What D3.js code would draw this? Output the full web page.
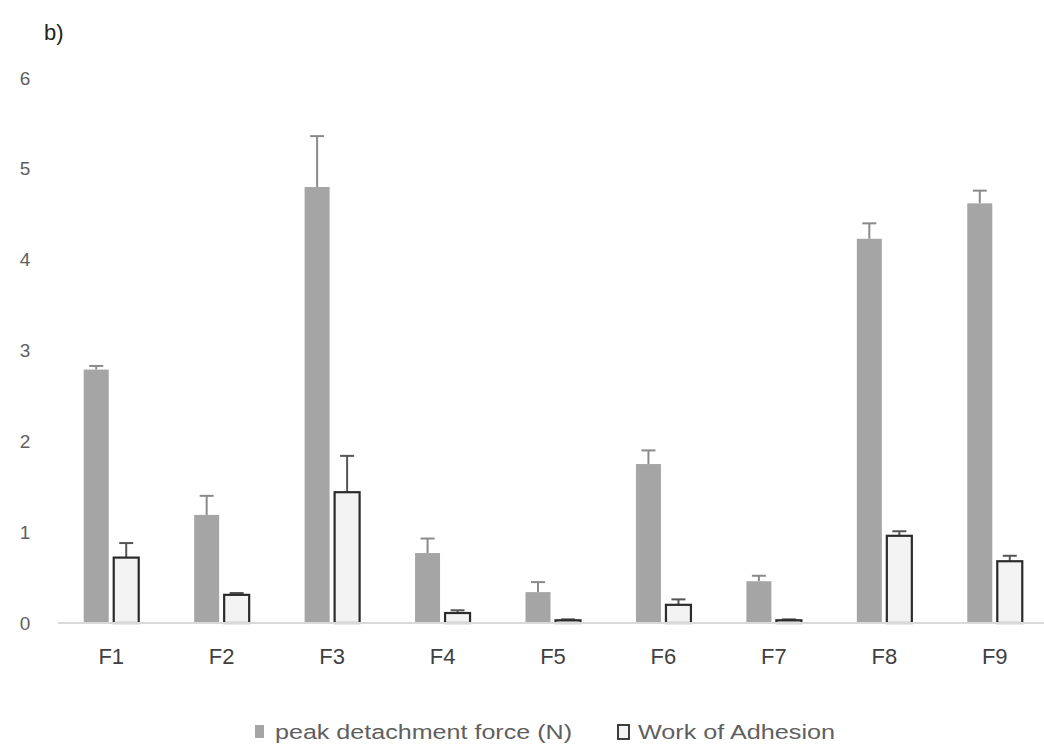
<!DOCTYPE html>
<html>
<head>
<meta charset="utf-8">
<script src="https://cdn.jsdelivr.net/npm/d3@7"></script>
<style>
  html, body { margin: 0; padding: 0; background: #fff; }
  svg { display: block; }
</style>
</head>
<body>
<svg id="chart" width="1044" height="748"></svg>
<script>
const categories = ["F1", "F2", "F3", "F4", "F5", "F6", "F7", "F8", "F9"];
const peakForce = [2.79, 1.19, 4.80, 0.77, 0.34, 1.75, 0.46, 4.23, 4.62];
const peakForceErr = [0.04, 0.21, 0.56, 0.16, 0.11, 0.15, 0.06, 0.17, 0.14];
const workAdhesion = [0.72, 0.31, 1.44, 0.11, 0.03, 0.20, 0.03, 0.96, 0.68];
const workAdhesionErr = [0.16, 0.02, 0.40, 0.03, 0.01, 0.06, 0.01, 0.05, 0.06];
const yTicks = [0, 1, 2, 3, 4, 5, 6];
const seriesNames = ["peak detachment force (N)", "Work of Adhesion"];

const svg = d3.select("#chart");
const font = "'Liberation Sans', Arial, sans-serif";

const x = d3.scaleBand().domain(categories).range([56, 1050]).paddingInner(0).paddingOuter(0);
const y = d3.scaleLinear().domain([0, 6]).range([623, 78]);

const barW = 25;
const offGray = -15, offWhite = 15;

// title label
svg.append("text").attr("x", 44).attr("y", 40)
  .attr("font-family", font).attr("font-size", 22).attr("fill", "#222")
  .text("b)");

// y tick labels (no axis line)
const yAxis = d3.axisLeft(y).tickValues(yTicks).tickSize(0).tickPadding(0).tickFormat(d3.format("d"));
const yg = svg.append("g").attr("transform", "translate(25,0)").call(yAxis);
yg.select(".domain").remove();
yg.selectAll("text").attr("font-family", font).attr("font-size", 19).attr("fill", "#5f5f5f")
  .attr("text-anchor", "middle");

const data = categories.map((c, i) => ({c, p: peakForce[i], pe: peakForceErr[i], w: workAdhesion[i], we: workAdhesionErr[i]}));
const cx = d => x(d.c) + x.bandwidth() / 2;

// error bars
const errG = svg.append("g");
data.forEach(d => {
  const xc = cx(d) + offGray;
  errG.append("line").attr("x1", xc).attr("x2", xc).attr("y1", y(d.p)).attr("y2", y(d.p + d.pe))
    .attr("stroke", "#8a8a8a").attr("stroke-width", 2);
  errG.append("line").attr("x1", xc - 7).attr("x2", xc + 7).attr("y1", y(d.p + d.pe)).attr("y2", y(d.p + d.pe))
    .attr("stroke", "#8a8a8a").attr("stroke-width", 2);
});
svg.append("g").selectAll("rect").data(data).join("rect")
  .attr("x", d => cx(d) + offGray - barW / 2)
  .attr("y", d => y(d.p))
  .attr("width", barW)
  .attr("height", d => y(0) - y(d.p))
  .attr("fill", "#a5a5a5");

data.forEach(d => {
  const xc = cx(d) + offWhite;
  errG.append("line").attr("x1", xc).attr("x2", xc).attr("y1", y(d.w)).attr("y2", y(d.w + d.we))
    .attr("stroke", "#555").attr("stroke-width", 2);
  errG.append("line").attr("x1", xc - 7).attr("x2", xc + 7).attr("y1", y(d.w + d.we)).attr("y2", y(d.w + d.we))
    .attr("stroke", "#555").attr("stroke-width", 2);
});
svg.append("g").selectAll("rect").data(data).join("rect")
  .attr("x", d => cx(d) + offWhite - barW / 2)
  .attr("y", d => y(d.w))
  .attr("width", barW)
  .attr("height", d => y(0) - y(d.w))
  .attr("fill", "#f3f3f3")
  .attr("stroke", "#2b2b2b")
  .attr("stroke-width", 2.2);

// x axis
const xAxis = d3.axisBottom(x).tickSize(0).tickPadding(25);
const xg = svg.append("g").attr("transform", `translate(0,${y(0)})`).call(xAxis);
xg.select(".domain").attr("stroke", "#d9d9d9").attr("stroke-width", 2)
  .attr("d", `M58,0H1044`);
xg.selectAll("text").attr("font-family", font).attr("font-size", 22).attr("fill", "#404040");

// legend
const leg = svg.append("g").attr("font-family", font).attr("font-size", 20);
leg.append("rect").attr("x", 255).attr("y", 725).attr("width", 9).attr("height", 13).attr("fill", "#a5a5a5");
leg.append("text").attr("x", 275).attr("y", 739).attr("fill", "#5f5f5f")
  .attr("textLength", 297).attr("lengthAdjust", "spacingAndGlyphs").text(seriesNames[0]);
leg.append("rect").attr("x", 618).attr("y", 725).attr("width", 11).attr("height", 14)
  .attr("fill", "#f3f3f3").attr("stroke", "#2b2b2b").attr("stroke-width", 1.8);
leg.append("text").attr("x", 638).attr("y", 739).attr("fill", "#5f5f5f")
  .attr("textLength", 197).attr("lengthAdjust", "spacingAndGlyphs").text(seriesNames[1]);
</script>
</body>
</html>
